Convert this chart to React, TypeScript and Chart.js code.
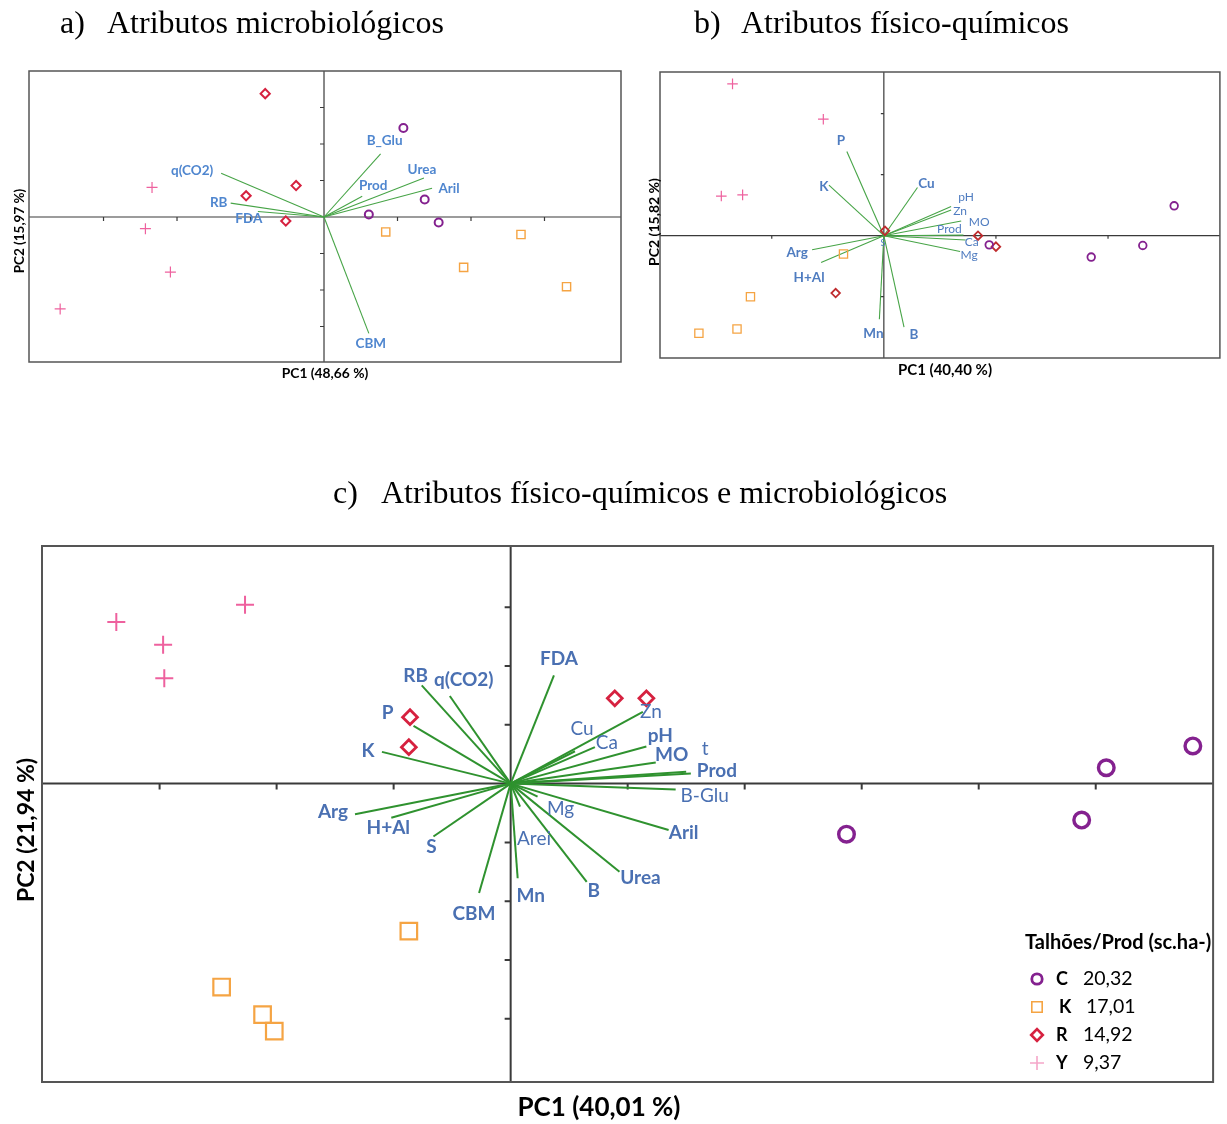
import React, { useEffect, useRef } from 'react';
import { Chart, registerables } from 'chart.js';

Chart.register(...registerables);

const PAGE_W = 1227;
const PAGE_H = 1124;

// ---------------- Panel a: microbiological attributes ----------------
const aGroupC = [[1.08, 2.44], [1.37, 0.48], [0.61, 0.07], [1.56, -0.15]];
const aGroupK = [[0.84, -0.41], [1.9, -1.38], [2.68, -0.48], [3.3, -1.91]];
const aGroupR = [[-0.8, 3.38], [-0.38, 0.86], [-1.06, 0.58], [-0.52, -0.11]];
const aGroupY = [[-2.34, 0.81], [-2.43, -0.32], [-2.09, -1.51], [-3.59, -2.52]];
const aVarNames = ['q(CO2)', 'RB', 'FDA', 'B_Glu', 'Prod', 'Urea', 'Aril', 'CBM'];
const aVarPC1 = [-1.4, -1.27, -0.9, 0.77, 0.52, 1.36, 1.47, 0.61];
const aVarPC2 = [1.2, 0.38, 0.15, 1.73, 0.57, 1.07, 0.79, -3.19];
const aTicksX = [-3, -2, -1, 1, 2, 3];
const aTicksY = [-3, -2, -1, 1, 2, 3];

// ---------------- Panel b: physico-chemical attributes ----------------
const bGroupC = [[0.94, -0.15], [1.85, -0.35], [2.31, -0.16], [2.59, 0.49]];
const bGroupK = [[-0.36, -0.3], [-1.19, -1.0], [-1.31, -1.53], [-1.65, -1.6]];
const bGroupR = [[-0.43, -0.94], [0.01, 0.08], [0.84, 0.0], [1.0, -0.18]];
const bGroupY = [[-1.35, 2.49], [-0.54, 1.91], [-1.45, 0.65], [-1.26, 0.67]];
const bVarNames = ['P', 'K', 'Cu', 'pH', 'Zn', 'MO', 'Prod', 'Ca', 'Mg', 'Arg', 'H+Al', 'S', 'Mn', 'B'];
const bVarPC1 = [-0.33, -0.49, 0.3, 0.6, 0.6, 0.69, 0.71, 0.73, 0.68, -0.64, -0.56, 0.0, -0.04, 0.18];
const bVarPC2 = [1.38, 0.83, 0.79, 0.48, 0.42, 0.24, 0.01, -0.07, -0.26, -0.23, -0.44, -0.03, -1.37, -1.5];
const bTicksX = [-1, 1, 2];
const bTicksY = [-1, 1, 2];

// ---------------- Panel c: physico-chemical + microbiological ----------------
const cGroupC = [[2.87, -0.86], [4.88, -0.62], [5.09, 0.27], [5.83, 0.64]];
const cGroupK = [[-0.87, -2.51], [-2.47, -3.46], [-2.12, -3.93], [-2.02, -4.21]];
const cGroupR = [[-0.86, 1.13], [-0.87, 0.62], [0.89, 1.45], [1.16, 1.45]];
const cGroupY = [[-3.37, 2.75], [-2.97, 2.36], [-2.96, 1.79], [-2.27, 3.04]];
const cVarNames = ['FDA', 'RB', 'q(CO2)', 'P', 'K', 'Arg', 'H+Al', 'S', 'CBM', 'Mn', 'Arei', 'Mg', 'B', 'Urea', 'Aril', 'B-Glu', 'Prod', 't', 'MO', 'pH', 'Zn', 'Ca', 'Cu'];
const cVarPC1 = [0.37, -0.76, -0.52, -0.83, -1.1, -1.33, -1.02, -0.66, -0.27, 0.06, 0.08, 0.23, 0.65, 0.93, 1.35, 1.41, 1.54, 1.5, 1.24, 1.16, 1.13, 0.72, 0.55];
const cVarPC2 = [1.84, 1.67, 1.49, 0.98, 0.54, -0.52, -0.58, -0.9, -1.86, -1.61, -0.39, -0.22, -1.67, -1.5, -0.79, -0.1, 0.17, 0.2, 0.36, 0.63, 1.22, 0.62, 0.55];
const cTicksX = [-3, -2, -1, 1, 2, 3, 4, 5];
const cTicksY = [-4, -3, -2, -1, 1, 2, 3];

// ---------------- Legend ----------------
const legendTitle = 'Talhões/Prod (sc.ha-)';
const legendCodes = ['C', 'K', 'R', 'Y'];
const legendProd = ['20,32', '17,01', '14,92', '9,37'];

// ---------------- Titles ----------------
const titleLetters = ['a)', 'b)', 'c)'];
const titleTexts = ['Atributos microbiológicos', 'Atributos físico-químicos', 'Atributos físico-químicos e microbiológicos'];
const pc1Titles = ['PC1 (48,66 %)', 'PC1 (40,40 %)', 'PC1 (40,01 %)'];
const pc2Titles = ['PC2 (15,97 %)', 'PC2 (15,82 %)', 'PC2 (21,94 %)'];

// ---------------- Layout (positions / styles) ----------------
const SANS = '"Lato", "Open Sans", sans-serif';
const SERIF = '"Liberation Serif", "Times New Roman", serif';

type Pt = number[];
type Panel = {
  id: string;
  idx: number;
  box: { left: number; top: number; right: number; bottom: number };
  xRange: [number, number];
  yRange: [number, number];
  groups: Pt[][];
  names: string[];
  pc1: number[];
  pc2: number[];
  ticksX: number[];
  ticksY: number[];
  offsets: Record<string, [number, number]>;
  lightLabels: string[];
  boldFont: string;
  lightFont: string;
  labelColor: string;
  vecColor: string;
  vecWidth: number;
  axisWidth: number;
  boxWidth: number;
  tickLen: number;
  markers: { style: string; radius: number; width: number; color: string }[];
  titlePos: { letterX: number; textX: number; baseline: number };
  pc1Pos: { x: number; y: number; font: string };
  pc2Pos: { x: number; y: number; font: string };
  legend?: boolean;
};

const PURPLE = '#84218F';
const ORANGE = '#F5A443';
const CRIMSON = '#D6213F';
const PINK = '#EE619E';

const panels: Panel[] = [
  {
    id: 'a',
    idx: 0,
    box: { left: 29, top: 71, right: 621, bottom: 362 },
    xRange: [-4.014, 4.041],
    yRange: [-3.973, 4.0],
    groups: [aGroupC, aGroupK, aGroupR, aGroupY],
    names: aVarNames,
    pc1: aVarPC1,
    pc2: aVarPC2,
    ticksX: aTicksX,
    ticksY: aTicksY,
    offsets: {
      'q(CO2)': [-29, -3], RB: [-12, 0], FDA: [-9, 7], B_Glu: [4, -13],
      Prod: [11, -11], Urea: [-2, -8], Aril: [17, 0], CBM: [2, 10],
    },
    lightLabels: [],
    boldFont: `bold 13.5px ${SANS}`,
    lightFont: `13px ${SANS}`,
    labelColor: '#4F86CF',
    vecColor: '#47A447',
    vecWidth: 1.1,
    axisWidth: 1.2,
    boxWidth: 1.5,
    tickLen: 4,
    markers: [
      { style: 'circle', radius: 4, width: 2, color: PURPLE },
      { style: 'rect', radius: 5.8, width: 1.4, color: ORANGE },
      { style: 'rectRot', radius: 4.6, width: 2, color: CRIMSON },
      { style: 'cross', radius: 5.5, width: 1.2, color: PINK },
    ],
    titlePos: { letterX: 60, textX: 107, baseline: 32.5 },
    pc1Pos: { x: 325, y: 374, font: `bold 13.8px ${SANS}` },
    pc2Pos: { x: 20, y: 231, font: `bold 13.5px ${SANS}` },
  },
  {
    id: 'b',
    idx: 1,
    box: { left: 660, top: 72, right: 1222, bottom: 358 },
    xRange: [-1.997, 2.998],
    yRange: [-2.005, 2.684],
    groups: [bGroupC, bGroupK, bGroupR, bGroupY],
    names: bVarNames,
    pc1: bVarPC1,
    pc2: bVarPC2,
    ticksX: bTicksX,
    ticksY: bTicksY,
    offsets: {
      P: [-6, -11], K: [-5, 2], Cu: [9, -4], Arg: [-15, 3], 'H+Al': [-12, 15],
      Mn: [-6, 14], B: [10, 7], S: [-1, 6], pH: [15, -9], Zn: [9, 1],
      MO: [18, 1], Prod: [-14, -6], Ca: [6, 2], Mg: [9, 4],
    },
    lightLabels: ['pH', 'Zn', 'MO', 'Prod', 'Ca', 'Mg', 'S'],
    boldFont: `bold 13.5px ${SANS}`,
    lightFont: `12px ${SANS}`,
    labelColor: '#4F7CC0',
    vecColor: '#47A447',
    vecWidth: 1.1,
    axisWidth: 1.2,
    boxWidth: 1.5,
    tickLen: 3,
    markers: [
      { style: 'circle', radius: 3.8, width: 1.8, color: PURPLE },
      { style: 'rect', radius: 5.8, width: 1.3, color: ORANGE },
      { style: 'rectRot', radius: 4.3, width: 1.8, color: '#BF2B2E' },
      { style: 'cross', radius: 5.3, width: 1.2, color: PINK },
    ],
    titlePos: { letterX: 694, textX: 741, baseline: 32.5 },
    pc1Pos: { x: 945, y: 370, font: `bold 15px ${SANS}` },
    pc2Pos: { x: 654, y: 222, font: `bold 14px ${SANS}` },
  },
  {
    id: 'c',
    idx: 2,
    box: { left: 42, top: 546, right: 1219, bottom: 1082 },
    xRange: [-4.005, 6.003],
    yRange: [-5.075, 4.041],
    groups: [cGroupC, cGroupK, cGroupR, cGroupY],
    names: cVarNames,
    pc1: cVarPC1,
    pc2: cVarPC2,
    ticksX: cTicksX,
    ticksY: cTicksY,
    offsets: {
      FDA: [5, -17], RB: [-6, -10], 'q(CO2)': [14, -16], P: [-26, -13], K: [-14, -1],
      Arg: [-22, -2], 'H+Al': [-3, 10], S: [-2, 10], CBM: [-5, 21], Mn: [13, 18],
      Arei: [14, 32], Mg: [23, 12], B: [7, 9], Urea: [21, 6], Aril: [15, 3],
      'B-Glu': [29, 6], Prod: [26, -3], t: [19, -23], MO: [16, -8], pH: [14, -11],
      Zn: [8, 0], Ca: [12, -4], Cu: [7, -22],
    },
    lightLabels: ['Cu', 'Ca', 'Zn', 'Mg', 'Arei', 't', 'B-Glu'],
    boldFont: `bold 19px ${SANS}`,
    lightFont: `19px ${SANS}`,
    labelColor: '#4A70B2',
    vecColor: '#2F922F',
    vecWidth: 2,
    axisWidth: 2,
    boxWidth: 2,
    tickLen: 6,
    markers: [
      { style: 'circle', radius: 7.8, width: 3.4, color: PURPLE },
      { style: 'rect', radius: 11.7, width: 2.2, color: ORANGE },
      { style: 'rectRot', radius: 7.4, width: 2.8, color: CRIMSON },
      { style: 'cross', radius: 9, width: 2, color: PINK },
    ],
    titlePos: { letterX: 333, textX: 381, baseline: 502.5 },
    pc1Pos: { x: 599, y: 1108, font: `bold 26px ${SANS}` },
    pc2Pos: { x: 27, y: 830, font: `bold 23px ${SANS}` },
    legend: true,
  },
];

function drawMarker(ctx: CanvasRenderingContext2D, style: string, x: number, y: number, r: number, w: number, color: string) {
  ctx.save();
  ctx.strokeStyle = color;
  ctx.lineWidth = w;
  ctx.beginPath();
  if (style === 'circle') {
    ctx.arc(x, y, r, 0, Math.PI * 2);
  } else if (style === 'rect') {
    ctx.rect(x - r, y - r, 2 * r, 2 * r);
  } else if (style === 'rectRot') {
    ctx.moveTo(x - r, y);
    ctx.lineTo(x, y - r);
    ctx.lineTo(x + r, y);
    ctx.lineTo(x, y + r);
    ctx.closePath();
  } else {
    ctx.moveTo(x - r, y);
    ctx.lineTo(x + r, y);
    ctx.moveTo(x, y - r);
    ctx.lineTo(x, y + r);
  }
  ctx.stroke();
  ctx.restore();
}

function makePlugin(p: Panel) {
  return {
    id: 'panelDecor_' + p.id,
    beforeDatasetsDraw(chart: any) {
      const { ctx, chartArea: ca } = chart;
      const xs = chart.scales.x;
      const ys = chart.scales.y;
      const x0 = xs.getPixelForValue(0);
      const y0 = ys.getPixelForValue(0);
      ctx.save();
      ctx.strokeStyle = '#3A3A3A';
      ctx.lineWidth = p.axisWidth;
      ctx.beginPath();
      ctx.moveTo(ca.left, y0);
      ctx.lineTo(ca.right, y0);
      ctx.moveTo(x0, ca.top);
      ctx.lineTo(x0, ca.bottom);
      ctx.stroke();
      ctx.beginPath();
      p.ticksX.forEach((v) => {
        const px = xs.getPixelForValue(v);
        ctx.moveTo(px, y0);
        ctx.lineTo(px, y0 + p.tickLen);
      });
      p.ticksY.forEach((v) => {
        const py = ys.getPixelForValue(v);
        ctx.moveTo(x0, py);
        ctx.lineTo(x0 - p.tickLen, py);
      });
      ctx.stroke();
      ctx.strokeStyle = '#555555';
      ctx.lineWidth = p.boxWidth;
      ctx.strokeRect(ca.left, ca.top, ca.right - ca.left, ca.bottom - ca.top);
      ctx.restore();
    },
    afterDatasetsDraw(chart: any) {
      const { ctx } = chart;
      const xs = chart.scales.x;
      const ys = chart.scales.y;
      ctx.save();
      // variable labels
      ctx.fillStyle = p.labelColor;
      ctx.textAlign = 'center';
      ctx.textBaseline = 'middle';
      p.names.forEach((name, i) => {
        const off = p.offsets[name] || [0, 0];
        const px = xs.getPixelForValue(p.pc1[i]) + off[0];
        const py = ys.getPixelForValue(p.pc2[i]) + off[1];
        ctx.font = p.lightLabels.includes(name) ? p.lightFont : p.boldFont;
        if (p.id === 'b' && name === 'S') ctx.font = `9px ${SANS}`;
        ctx.fillText(name, px, py);
      });
      // title
      ctx.fillStyle = '#000';
      ctx.font = `32px ${SERIF}`;
      ctx.textAlign = 'left';
      ctx.textBaseline = 'alphabetic';
      ctx.fillText(titleLetters[p.idx], p.titlePos.letterX, p.titlePos.baseline);
      ctx.fillText(titleTexts[p.idx], p.titlePos.textX, p.titlePos.baseline);
      // axis titles
      ctx.textAlign = 'center';
      ctx.textBaseline = 'middle';
      ctx.font = p.pc1Pos.font;
      ctx.fillText(pc1Titles[p.idx], p.pc1Pos.x, p.pc1Pos.y);
      ctx.save();
      ctx.translate(p.pc2Pos.x, p.pc2Pos.y);
      ctx.rotate(-Math.PI / 2);
      ctx.font = p.pc2Pos.font;
      ctx.fillText(pc2Titles[p.idx], 0, 0);
      ctx.restore();
      // legend
      if (p.legend) {
        ctx.textAlign = 'left';
        ctx.textBaseline = 'middle';
        ctx.fillStyle = '#000';
        ctx.font = `bold 20px ${SANS}`;
        ctx.fillText(legendTitle, 1025, 943);
        const legendMarkers = [
          { style: 'circle', r: 5.2, w: 2.8, color: PURPLE },
          { style: 'rect', r: 5.2, w: 1.6, color: ORANGE },
          { style: 'rectRot', r: 5.8, w: 2.6, color: CRIMSON },
          { style: 'cross', r: 7, w: 1.6, color: '#F5A6C9' },
        ];
        legendCodes.forEach((code, i) => {
          const yy = 979 + i * 28;
          const m = legendMarkers[i];
          drawMarker(ctx, m.style, 1037, yy, m.r, m.w, m.color);
          ctx.fillStyle = '#000';
          ctx.font = `bold 18px ${SANS}`;
          ctx.fillText(code, i === 1 ? 1059 : 1056, yy);
          ctx.font = `19.5px ${SANS}`;
          ctx.fillText(legendProd[i], i === 1 ? 1086 : 1083, yy);
        });
      }
      ctx.restore();
    },
  };
}

function makeConfig(p: Panel): any {
  const vectorSets = p.names.map((name, i) => ({
    label: name,
    data: [{ x: 0, y: 0 }, { x: p.pc1[i], y: p.pc2[i] }],
    showLine: true,
    borderColor: p.vecColor,
    borderWidth: p.vecWidth,
    pointRadius: 0,
    order: 2,
  }));
  const groupSets = p.groups.map((g, gi) => {
    const m = p.markers[gi];
    return {
      label: legendCodes[gi],
      data: g.map(([x, y]) => ({ x, y })),
      pointStyle: m.style,
      pointRadius: m.radius,
      pointBorderWidth: m.width,
      pointBorderColor: m.color,
      borderColor: m.color,
      pointBackgroundColor: 'rgba(0,0,0,0)',
      backgroundColor: 'rgba(0,0,0,0)',
      showLine: false,
      order: 1,
    };
  });
  return {
    type: 'scatter',
    data: { datasets: [...groupSets, ...vectorSets] },
    options: {
      responsive: false,
      animation: false,
      devicePixelRatio: 1,
      events: [],
      layout: {
        padding: {
          left: p.box.left,
          top: p.box.top,
          right: PAGE_W - p.box.right,
          bottom: PAGE_H - p.box.bottom,
        },
      },
      plugins: { legend: { display: false }, tooltip: { enabled: false }, title: { display: false } },
      scales: {
        x: { type: 'linear', min: p.xRange[0], max: p.xRange[1], display: false },
        y: { type: 'linear', min: p.yRange[0], max: p.yRange[1], display: false },
      },
    },
    plugins: [makePlugin(p)],
  };
}

export default function App() {
  const refA = useRef<HTMLCanvasElement>(null);
  const refB = useRef<HTMLCanvasElement>(null);
  const refC = useRef<HTMLCanvasElement>(null);

  useEffect(() => {
    const refs = [refA, refB, refC];
    const charts = panels.map((p, i) => new Chart(refs[i].current as HTMLCanvasElement, makeConfig(p)));
    return () => charts.forEach((c) => c.destroy());
  }, []);

  const canvasStyle: React.CSSProperties = { position: 'absolute', left: 0, top: 0 };
  return (
    <div style={{ position: 'absolute', left: 0, top: 0, width: PAGE_W, height: PAGE_H, background: '#ffffff', overflow: 'hidden' }}>
      <canvas ref={refA} width={PAGE_W} height={PAGE_H} style={canvasStyle} />
      <canvas ref={refB} width={PAGE_W} height={PAGE_H} style={canvasStyle} />
      <canvas ref={refC} width={PAGE_W} height={PAGE_H} style={canvasStyle} />
    </div>
  );
}
